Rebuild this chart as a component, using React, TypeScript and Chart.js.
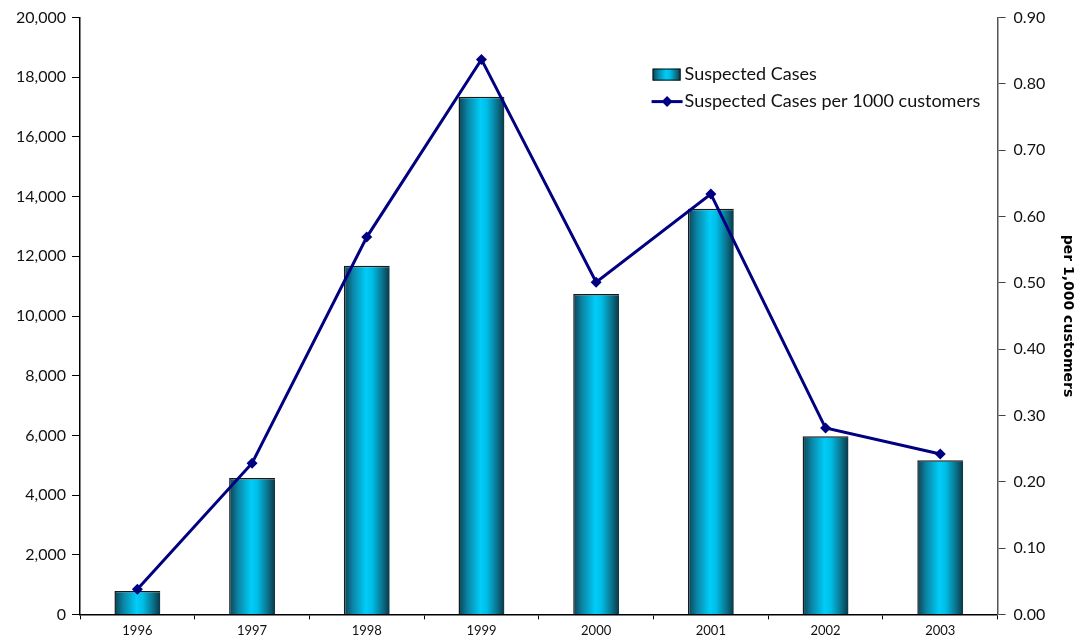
import React, { useEffect, useRef } from "react";
import { Chart, registerables } from "chart.js";

Chart.register(...registerables);

const years = ["1996", "1997", "1998", "1999", "2000", "2001", "2002", "2003"];
const suspectedCases = [780, 4570, 11680, 17350, 10740, 13590, 5970, 5170];
const casesPer1000 = [0.038, 0.228, 0.569, 0.837, 0.501, 0.634, 0.281, 0.242];
const leftTicks = [0, 2000, 4000, 6000, 8000, 10000, 12000, 14000, 16000, 18000, 20000];
const rightTicks = [0, 0.1, 0.2, 0.3, 0.4, 0.5, 0.6, 0.7, 0.8, 0.9];

const FONT = "Lato, 'Open Sans', sans-serif";
const LINE_COLOR = "#000080";

function barGradient(ctx: CanvasRenderingContext2D, x0: number, x1: number) {
  const g = ctx.createLinearGradient(x0, 0, x1, 0);
  g.addColorStop(0, "#0b4254");
  g.addColorStop(0.2, "#0b86a6");
  g.addColorStop(0.48, "#00cdf8");
  g.addColorStop(0.62, "#00bde6");
  g.addColorStop(0.85, "#0a6f88");
  g.addColorStop(1, "#0a3646");
  return g;
}

// Legend drawn in the upper right of the plot area, stacked vertically
const legendPlugin = {
  id: "boxLegend",
  afterDraw(chart: any) {
    const { ctx, chartArea } = chart;
    const x = chartArea.left + (chartArea.right - chartArea.left) * 0.624;
    const y1 = chartArea.top + 57;
    const y2 = chartArea.top + 84;
    ctx.save();
    // bar swatch
    ctx.fillStyle = barGradient(ctx, x, x + 28);
    ctx.fillRect(x, y1 - 6, 28, 12);
    ctx.strokeStyle = "#111";
    ctx.lineWidth = 1;
    ctx.strokeRect(x + 0.5, y1 - 5.5, 27, 11);
    // line swatch
    ctx.strokeStyle = LINE_COLOR;
    ctx.lineWidth = 3;
    ctx.beginPath();
    ctx.moveTo(x - 1, y2);
    ctx.lineTo(x + 30, y2);
    ctx.stroke();
    ctx.fillStyle = LINE_COLOR;
    ctx.beginPath();
    ctx.moveTo(x + 14.5, y2 - 5.5);
    ctx.lineTo(x + 20, y2);
    ctx.lineTo(x + 14.5, y2 + 5.5);
    ctx.lineTo(x + 9, y2);
    ctx.closePath();
    ctx.fill();
    // labels
    ctx.fillStyle = "#111";
    ctx.font = `18px ${FONT}`;
    ctx.textBaseline = "middle";
    ctx.textAlign = "left";
    ctx.fillText("Suspected Cases", x + 32, y1);
    ctx.fillText("Suspected Cases per 1000 customers", x + 32, y2);
    ctx.restore();
  },
};

export default function App() {
  const canvasRef = useRef<HTMLCanvasElement | null>(null);

  useEffect(() => {
    document.body.style.margin = "0";
    const canvas = canvasRef.current;
    if (!canvas) return;

    const chart = new Chart(canvas, {
      type: "bar",
      data: {
        labels: years,
        datasets: [
          {
            type: "line",
            label: "Suspected Cases per 1000 customers",
            data: casesPer1000,
            yAxisID: "y1",
            borderColor: LINE_COLOR,
            backgroundColor: LINE_COLOR,
            borderWidth: 3,
            pointStyle: "rectRot",
            pointRadius: 5.5,
            pointBorderWidth: 0,
            tension: 0,
            order: 0,
          } as any,
          {
            type: "bar",
            label: "Suspected Cases",
            data: suspectedCases,
            yAxisID: "y",
            borderColor: "#1a1a1a",
            borderWidth: { left: 1.5, top: 1.5, right: 0, bottom: 0 },
            barPercentage: 0.8,
            categoryPercentage: 0.5,
            backgroundColor: (c: any) => {
              const ch = c.chart;
              const xs = ch.scales?.x;
              if (!xs || c.dataIndex === undefined) return "#00c0e8";
              const cx = xs.getPixelForValue(c.dataIndex);
              const w = (xs.width / years.length) * 0.4;
              if (!Number.isFinite(cx) || !Number.isFinite(w) || w <= 0) return "#00c0e8";
              return barGradient(ch.ctx, cx - w / 2, cx + w / 2);
            },
            order: 1,
          } as any,
        ],
      },
      options: {
        responsive: false,
        animation: false,
        layout: { padding: { left: 10, right: 0, top: 10, bottom: 0 } },
        plugins: {
          legend: { display: false },
          tooltip: { enabled: false },
        },
        scales: {
          x: {
            offset: true,
            grid: {
              display: true,
              offset: true,
              drawOnChartArea: false,
              drawTicks: true,
              tickLength: 5,
              color: "#000",
            },
            border: { display: true, color: "#000", width: 1.5 },
            ticks: {
              color: "#111",
              font: { family: FONT, size: 13 },
              padding: 4,
              maxRotation: 0,
            },
          },
          y: {
            position: "left",
            min: 0,
            max: 20000,
            afterBuildTicks: (axis: any) => {
              axis.ticks = leftTicks.map((v) => ({ value: v }));
            },
            grid: { display: true, drawOnChartArea: false, tickLength: 8, color: "#000" },
            border: { display: true, color: "#000", width: 1.5 },
            ticks: {
              color: "#111",
              font: { family: FONT, size: 16 },
              padding: 6,
              callback: (v: any) => Number(v).toLocaleString("en-US"),
            },
          },
          y1: {
            position: "right",
            min: 0,
            max: 0.9,
            afterBuildTicks: (axis: any) => {
              axis.ticks = rightTicks.map((v) => ({ value: v }));
            },
            grid: { display: true, drawOnChartArea: false, tickLength: 8, color: "#444" },
            border: { display: true, color: "#555", width: 1.5 },
            ticks: {
              color: "#111",
              font: { family: FONT, size: 16 },
              padding: 8,
              callback: (v: any) => Number(v).toFixed(2),
            },
            title: {
              display: true,
              text: "per 1,000 customers",
              color: "#000",
              font: { family: "'DejaVu Sans', sans-serif", size: 14, weight: "bold" },
              padding: { top: 2, bottom: 6 },
            },
          },
        },
      },
      plugins: [legendPlugin],
    });

    return () => chart.destroy();
  }, []);

  return (
    <div style={{ width: 1078, height: 643, background: "#fff" }}>
      <canvas ref={canvasRef} width={1078} height={643} style={{ display: "block" }} />
    </div>
  );
}
